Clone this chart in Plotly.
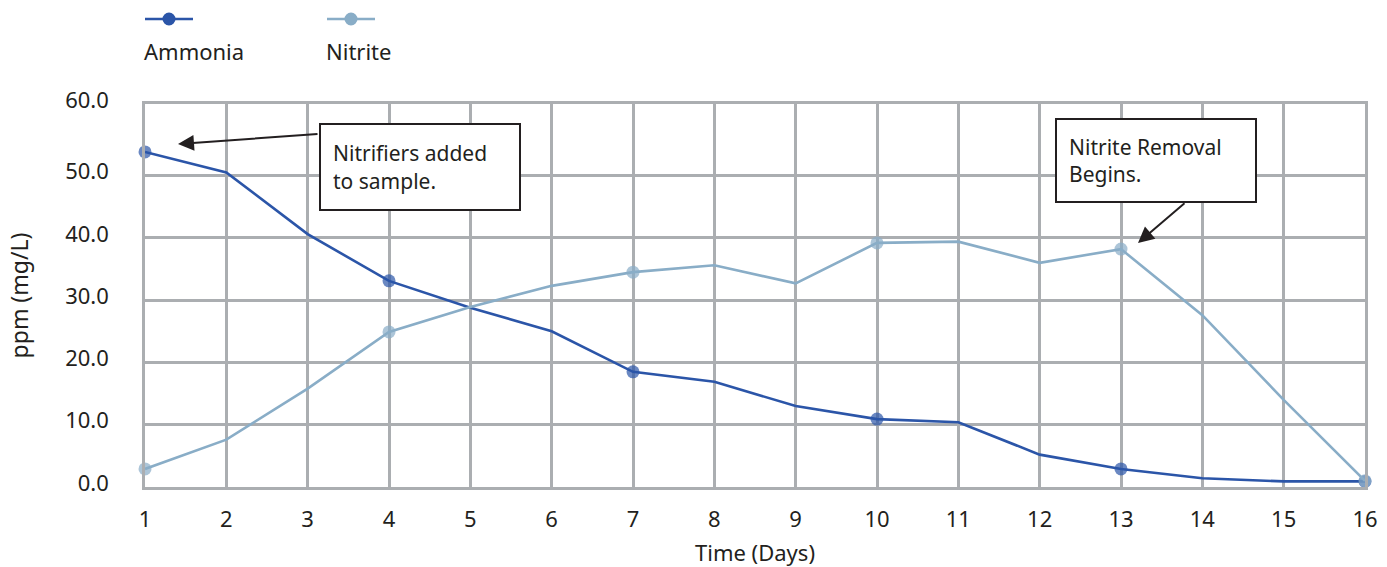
import plotly.graph_objects as go

# ---------------- data ----------------
days = list(range(1, 17))
day_labels = [str(d) for d in days]
ammonia = [53.8, 50.5, 40.6, 33.1, 28.8, 25.0, 18.5, 16.9, 13.0, 10.9, 10.4, 5.2, 2.9, 1.4, 0.9, 0.9]
nitrite = [2.9, 7.6, 15.8, 24.9, 28.9, 32.3, 34.5, 35.6, 32.7, 39.2, 39.4, 36.0, 38.2, 27.6, 14.0, 1.0]
marker_days = [1, 4, 7, 10, 13, 16]
series_names = ["Ammonia", "Nitrite"]
series_colors = ["#2B55A8", "#89ADC7"]
y_tickvals = [0, 10, 20, 30, 40, 50, 61.5]
y_ticktext = ["0.0", "10.0", "20.0", "30.0", "40.0", "50.0", "60.0"]

FONT = "Noto Sans"
TXT = "#231F20"
GRID = "#ABAEB1"

# plot-area geometry in pixels (for placing decorations in paper coordinates)
W, H = 1387, 567
L, R, T, B = 145, 22, 104, 80
PW, PH = W - L - R, H - T - B


def xp(px):
    return (px - L) / PW


def yp(py):
    return (H - B - py) / PH


fig = go.Figure()
for name, vals, col in zip(series_names, [ammonia, nitrite], series_colors):
    sizes = [13 if d in marker_days else 0 for d in days]
    fig.add_trace(go.Scatter(
        x=days, y=vals, name=name, mode="lines+markers",
        line=dict(color=col, width=2.6),
        marker=dict(color=col, size=sizes, line=dict(width=0)),
        cliponaxis=False, showlegend=False,
    ))

# hand-made legend: symbol above label
legend_x = [145, 327]
for name, col, lx in zip(series_names, series_colors, legend_x):
    fig.add_shape(type="line", xref="paper", yref="paper",
                  x0=xp(lx), x1=xp(lx + 48), y0=yp(19), y1=yp(19),
                  line=dict(color=col, width=2.6))
    fig.add_shape(type="circle", xref="paper", yref="paper",
                  xsizemode="pixel", ysizemode="pixel",
                  xanchor=xp(lx + 24), yanchor=yp(19),
                  x0=-6.5, x1=6.5, y0=-6.5, y1=6.5,
                  fillcolor=col, line=dict(width=0))
    fig.add_annotation(text=name, xref="paper", yref="paper",
                       x=xp(lx - 3), y=yp(51), xanchor="left", yanchor="middle",
                       showarrow=False, font=dict(family=FONT, size=22, color=TXT))

# callout boxes
box_font = dict(family=FONT, size=21, color=TXT)
fig.add_annotation(text="Nitrifiers added<br>to sample.", xref="paper", yref="paper",
                   x=xp(420), y=yp(167), xanchor="center", yanchor="middle",
                   showarrow=False, align="left", width=174, height=60,
                   borderpad=12, bordercolor="#231F20", borderwidth=2,
                   bgcolor="white", font=box_font)
fig.add_annotation(text="Nitrite Removal<br>Begins.", xref="paper", yref="paper",
                   x=xp(1156), y=yp(160.5), xanchor="center", yanchor="middle",
                   showarrow=False, align="left", width=174, height=57,
                   borderpad=12, bordercolor="#231F20", borderwidth=2,
                   bgcolor="white", font=box_font)
# arrows
fig.add_annotation(text="", xref="paper", yref="paper", x=xp(178), y=yp(144),
                   ax=141, ay=-10, showarrow=True, arrowhead=2, arrowsize=1.6,
                   arrowwidth=2, arrowcolor="#231F20")
fig.add_annotation(text="", xref="paper", yref="paper", x=xp(1138), y=yp(243),
                   ax=48, ay=-41, showarrow=True, arrowhead=2, arrowsize=1.6,
                   arrowwidth=2, arrowcolor="#231F20")

fig.update_layout(
    width=W, height=H,
    margin=dict(l=L, r=R, t=T, b=B, pad=0, autoexpand=False),
    paper_bgcolor="white", plot_bgcolor="white",
    font=dict(family=FONT, size=20, color=TXT),
    xaxis=dict(
        range=[1, 16], tickvals=days, ticktext=day_labels, automargin=False,
        showgrid=True, gridcolor=GRID, gridwidth=2.5,
        showline=True, linecolor=GRID, linewidth=3, mirror=True,
        zeroline=False, ticks="", ticklabelstandoff=11,
        tickfont=dict(family=FONT, size=22, color=TXT),
        title=dict(text="Time (Days)", standoff=15,
                   font=dict(family=FONT, size=22, color=TXT)),
    ),
    yaxis=dict(
        range=[0, 61.5], tickvals=y_tickvals, ticktext=y_ticktext, automargin=False,
        showgrid=True, gridcolor=GRID, gridwidth=2.5,
        showline=True, linecolor=GRID, linewidth=2.5, mirror=True,
        zeroline=False, ticks="", ticklabelstandoff=29, ticklabelshift=-4,
        tickfont=dict(family=FONT, size=22, color=TXT),
        title=dict(text="ppm (mg/L)", standoff=31,
                   font=dict(family=FONT, size=23, color=TXT)),
    ),
)

fig.write_html("out.html", config={"displayModeBar": False},
               post_script="document.body.style.margin='0';")
